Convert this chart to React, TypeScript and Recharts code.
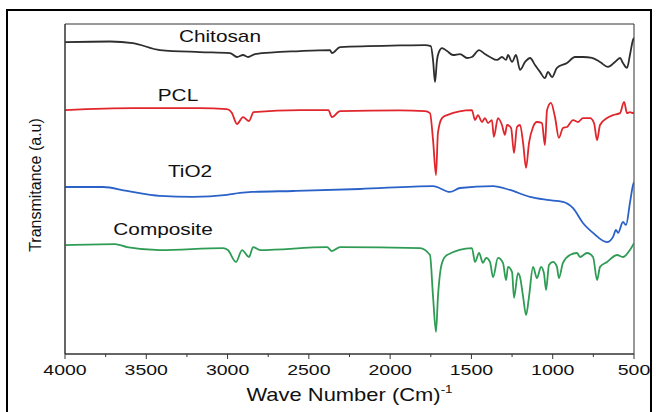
import React from "react";
import {
  LineChart,
  Line,
  XAxis,
  YAxis,
  ReferenceArea,
  ReferenceDot,
  Label,
} from "recharts";

// FTIR spectra, x = wave number (cm-1), y = transmittance offset (a.u.)
const chitosanWn = [
  4000, 3723, 3582, 3416, 3170, 2985, 2942, 2905, 2874, 2831, 2555, 2370, 2358, 2308, 1939,
  1786, 1750, 1736, 1724, 1712, 1700, 1681, 1650, 1613, 1570, 1527, 1497, 1453, 1417, 1386,
  1343, 1312, 1287, 1275, 1250, 1226, 1201, 1170, 1139, 1109, 1078, 1048, 1029, 1004, 974,
  912, 863, 814, 758, 709, 660, 617, 586, 568, 543, 525, 506, 500,
];
const chitosanT = [
  94.5, 94.7, 94.2, 92.1, 91.5, 91.2, 90.0, 90.6, 90.0, 90.9, 91.8, 92.1, 91.2, 93.0, 93.5,
  93.6, 93.3, 89.0, 82.4, 89.0, 91.5, 92.7, 91.8, 90.6, 90.9, 89.7, 90.0, 92.1, 90.9, 90.0,
  89.1, 90.0, 89.1, 90.6, 88.5, 90.6, 86.1, 88.5, 89.7, 87.6, 85.5, 83.6, 85.5, 83.9, 86.7,
  88.2, 90.0, 90.0, 89.7, 88.5, 87.0, 88.5, 89.7, 88.2, 86.7, 90.6, 95.2, 95.8,
];

const pclWn = [
  4000, 3582, 3170, 3004, 2975, 2942, 2905, 2868, 2840, 2555, 2380, 2358, 2308, 1939, 1786,
  1755, 1736, 1718, 1706, 1681, 1650, 1497, 1478, 1460, 1435, 1417, 1398, 1374, 1362, 1337,
  1312, 1294, 1281, 1256, 1238, 1220, 1201, 1182, 1164, 1146, 1121, 1097, 1066, 1048, 1035,
  1011, 986, 962, 937, 912, 875, 844, 814, 770, 746, 727, 709, 666, 629, 586,
  561, 543, 525, 506, 500,
];
const pclT = [
  73.9, 74.5, 74.5, 74.2, 73.2, 69.7, 71.8, 70.6, 73.3, 73.9, 73.9, 71.8, 73.6, 73.8, 73.6,
  73.0, 64.8, 54.2, 67.0, 71.5, 72.4, 73.9, 70.9, 72.4, 70.3, 71.5, 70.0, 70.9, 65.8, 71.5,
  69.4, 66.4, 69.4, 68.5, 60.9, 68.8, 69.4, 63.9, 56.4, 63.9, 68.8, 70.3, 70.0, 63.3, 73.9,
  76.1, 71.8, 65.5, 68.5, 68.8, 70.9, 70.3, 71.5, 71.5, 70.0, 64.8, 69.4, 71.5, 72.4, 73.0,
  76.4, 73.0, 73.3, 73.0, 73.3,
];

const tio2Wn = [
  4000, 3766, 3619, 3416, 3213, 3004, 2924, 2850, 2598, 2185, 1736, 1632, 1570, 1367, 1263,
  1140, 1035, 937, 875, 814, 752, 666, 629, 611, 598, 568, 549, 525, 506, 500,
];
const tio2T = [
  50.6, 50.6, 49.4, 47.9, 47.6, 48.2, 48.8, 49.1, 49.4, 50.0, 50.9, 49.1, 50.3, 50.9, 49.7,
  47.6, 46.7, 46.1, 44.2, 39.7, 36.7, 33.9, 35.5, 37.6, 36.7, 40.0, 39.1, 45.8, 51.2, 52.1,
];

const compositeWn = [
  4000, 3692, 3619, 3416, 3028, 2998, 2948, 2911, 2868, 2843, 2800, 2388, 2358, 2308, 1816,
  1755, 1736, 1718, 1706, 1681, 1650, 1497, 1478, 1453, 1429, 1410, 1386, 1367, 1337, 1306,
  1287, 1275, 1250, 1238, 1214, 1201, 1182, 1164, 1146, 1121, 1097, 1072, 1054, 1041, 1023,
  998, 974, 962, 937, 894, 851, 832, 789, 752, 727, 709, 666, 604, 568, 525, 500,
];
const compositeT = [
  33.0, 33.3, 32.4, 31.5, 32.1, 31.5, 27.9, 31.5, 29.4, 32.4, 31.5, 32.4, 31.2, 32.4, 32.1,
  30.0, 17.3, 6.7, 17.3, 27.6, 30.0, 32.1, 27.9, 30.6, 27.6, 29.1, 27.9, 23.3, 29.1, 27.6,
  22.4, 26.4, 24.8, 17.0, 24.5, 23.3, 17.3, 11.8, 17.3, 26.4, 23.0, 26.4, 24.5, 19.4, 27.0,
  27.9, 26.4, 23.0, 27.6, 30.0, 30.6, 29.4, 30.6, 29.4, 22.4, 26.4, 27.9, 30.0, 29.4, 31.5,
  33.6,
];

const seriesNames = ["Chitosan", "PCL", "TiO2", "Composite"];
const seriesColors = ["#2e2e2e", "#e0262c", "#2a62c8", "#2f9c55"];
// where each series name sits (data coordinates)
const labelWn = [3047, 3305, 3231, 3397];
const labelT = [96.1, 78.5, 55.2, 37.9];

const majorTicks = [4000, 3500, 3000, 2500, 2000, 1500, 1000, 500];
const minorTicks = [3750, 3250, 2750, 2250, 1750, 1250, 750];

const FONT = "'Liberation Sans', Arial, sans-serif";
const STRETCH = 1.3; // the source figure is stretched horizontally

const toPoints = (wn: number[], t: number[]) => wn.map((w, i) => ({ wn: w, t: t[i] }));

const series = [
  toPoints(chitosanWn, chitosanT),
  toPoints(pclWn, pclT),
  toPoints(tio2Wn, tio2T),
  toPoints(compositeWn, compositeT),
];

const allTicks = [...majorTicks, ...minorTicks].sort((a, b) => b - a);

function XTick(props: any) {
  const { x, y, payload } = props;
  const major = majorTicks.includes(payload.value);
  return (
    <g>
      <line x1={x} x2={x} y1={y} y2={y + (major ? 5 : 3)} stroke="#333" strokeWidth={1} />
      {major && (
        <text
          transform={`translate(${x},${y + 21}) scale(${STRETCH},1)`}
          textAnchor="middle"
          fontSize={15}
          fontFamily={FONT}
          fill="#111"
        >
          {payload.value}
        </text>
      )}
    </g>
  );
}

function XTitle(props: any) {
  const { viewBox } = props;
  const cx = viewBox.x + viewBox.width / 2;
  return (
    <text
      transform={`translate(${cx},401) scale(${STRETCH - 0.08},1)`}
      textAnchor="middle"
      fontSize={18}
      fontFamily={FONT}
      fill="#111"
    >
      Wave Number (Cm)
      <tspan dy={-8} fontSize={11}>
        -1
      </tspan>
    </text>
  );
}

function YTitle(props: any) {
  const { viewBox } = props;
  const cy = viewBox.y + viewBox.height / 2;
  return (
    <text
      transform={`translate(35,${cy - 4}) rotate(-90)`}
      textAnchor="middle"
      dominantBaseline="central"
      fontSize={16}
      fontFamily={FONT}
      fill="#111"
    >
      Transmitance (a.u)
    </text>
  );
}

function nameLabel(name: string) {
  return (props: any) => {
    const { viewBox } = props;
    const cx = viewBox.x + viewBox.width / 2;
    const cy = viewBox.y + viewBox.height / 2;
    return (
      <text
        transform={`translate(${cx},${cy}) scale(${STRETCH},1)`}
        textAnchor="middle"
        dominantBaseline="central"
        fontSize={16}
        fontFamily={FONT}
        fill="#111"
      >
        {name}
      </text>
    );
  };
}

export default function App() {
  return (
    <div style={{ position: "absolute", left: 0, top: 0, width: 656, height: 412, background: "#fff", overflow: "hidden" }}>
      <div
        style={{
          position: "absolute",
          left: 6,
          top: 9,
          width: 642,
          height: 420,
          border: "2px solid #000",
        }}
      />
      <div style={{ position: "absolute", left: 0, top: 0 }}>
        <LineChart width={656} height={412} margin={{ top: 24, right: 22, bottom: 8, left: 8 }}>
          <XAxis
            dataKey="wn"
            type="number"
            domain={[500, 4000]}
            reversed
            ticks={allTicks}
            interval={0}
            tickSize={0}
            tickMargin={0}
            tickLine={false}
            tick={<XTick />}
            height={50}
            axisLine={{ stroke: "#333" }}
            allowDataOverflow
          >
            <Label content={<XTitle />} />
          </XAxis>
          <YAxis
            type="number"
            domain={[0, 100]}
            width={57}
            tick={false}
            tickLine={false}
            axisLine={{ stroke: "#333" }}
            allowDataOverflow
          >
            <Label content={<YTitle />} />
          </YAxis>
          <ReferenceArea x1={4000} x2={500} y1={0} y2={100} fill="none" stroke="#333" strokeWidth={1} />
          {series.map((pts, i) => (
            <Line
              key={seriesNames[i]}
              data={pts}
              dataKey="t"
              type="monotone"
              stroke={seriesColors[i]}
              strokeWidth={1.8}
              dot={false}
              activeDot={false}
              isAnimationActive={false}
            />
          ))}
          {seriesNames.map((name, i) => (
            <ReferenceDot
              key={name}
              x={labelWn[i]}
              y={labelT[i]}
              r={1}
              fill="none"
              stroke="none"
              label={nameLabel(name)}
            />
          ))}
        </LineChart>
      </div>
    </div>
  );
}
